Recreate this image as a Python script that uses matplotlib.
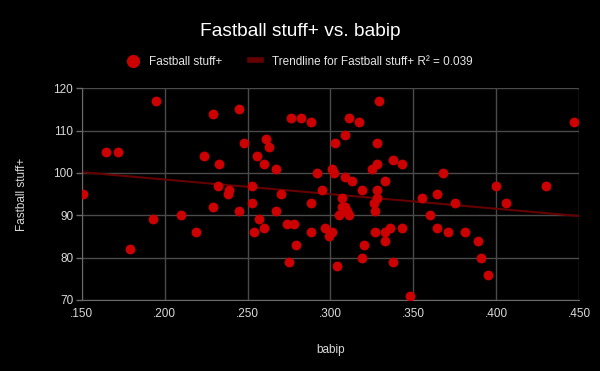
"""Scatter of fastball stuff+ against babip, with a linear trendline."""

import numpy as np
import matplotlib
matplotlib.use("Agg")
from matplotlib import pyplot as plt
from matplotlib.ticker import FuncFormatter

# Data.
babip = [
    0.151, 0.165, 0.172, 0.179, 0.193, 0.195, 0.210, 0.219, 0.224, 0.229,
    0.229, 0.232, 0.233, 0.238, 0.239, 0.245, 0.245, 0.248, 0.253, 0.253,
    0.254, 0.256, 0.257, 0.260, 0.260, 0.261, 0.263, 0.267, 0.267, 0.270,
    0.274, 0.275, 0.276, 0.278, 0.279, 0.282, 0.288, 0.288, 0.288, 0.292,
    0.295, 0.297, 0.299, 0.301, 0.301, 0.302, 0.303, 0.304, 0.305, 0.307,
    0.307, 0.309, 0.309, 0.309, 0.310, 0.311, 0.311, 0.313, 0.317, 0.319,
    0.319, 0.320, 0.325, 0.326, 0.327, 0.327, 0.328, 0.328, 0.328, 0.328,
    0.329, 0.333, 0.333, 0.333, 0.336, 0.338, 0.338, 0.343, 0.343, 0.348,
    0.355, 0.360, 0.364, 0.364, 0.368, 0.371, 0.375, 0.381, 0.389, 0.391,
    0.395, 0.400, 0.406, 0.430, 0.447,
]
stuff_plus = [
    95, 105, 105, 82, 89, 117, 90, 86, 104, 114,
    92, 97, 102, 95, 96, 115, 91, 107, 97, 93,
    86, 104, 89, 87, 102, 108, 106, 101, 91, 95,
    88, 79, 113, 88, 83, 113, 112, 93, 86, 100,
    96, 87, 85, 86, 101, 100, 107, 78, 90, 94,
    92, 92, 99, 109, 91, 90, 113, 98, 112, 96,
    80, 83, 101, 93, 91, 86, 102, 107, 96, 94,
    117, 98, 86, 84, 87, 103, 79, 102, 87, 71,
    94, 90, 95, 87, 100, 86, 93, 86, 84, 80,
    76, 97, 93, 97, 112,
]

x_ticks = [0.150, 0.200, 0.250, 0.300, 0.350, 0.400, 0.450]
y_ticks = [70, 80, 90, 100, 110, 120]

title = "Fastball stuff+ vs. babip"
series_label = "Fastball stuff+"
trend_label = "Trendline for Fastball stuff+ R² = 0.039"

plt.rcParams["font.family"] = ["Liberation Sans", "DejaVu Sans"]

fig = plt.figure(figsize=(6, 3.71), dpi=100, facecolor="black")
ax = fig.add_axes([0.136, 0.1914, 0.8295, 0.571], facecolor="black")

ax.scatter(babip, stuff_plus, s=50, color="#cc0000", zorder=3,
           linewidths=0, label=series_label)

# Least-squares trendline across the full x range.
slope, intercept = np.polyfit(babip, stuff_plus, 1)
x_line = np.array([x_ticks[0], x_ticks[-1]])
ax.plot(x_line, slope * x_line + intercept, color="#660000", lw=1.5,
        zorder=2, label=trend_label)

ax.set_xlim(x_ticks[0], x_ticks[-1])
ax.set_ylim(y_ticks[0], y_ticks[-1])
ax.set_xticks(x_ticks)
ax.set_yticks(y_ticks)
ax.xaxis.set_major_formatter(FuncFormatter(lambda v, _: f"{v:.3f}".lstrip("0")))

ax.grid(True, color="#4a4a4a", lw=1)
ax.set_axisbelow(True)
for side in ("top", "right"):
    ax.spines[side].set_visible(False)
for side in ("left", "bottom"):
    ax.spines[side].set_color("#6a6a6a")
ax.tick_params(axis="x", length=0, pad=6, labelsize=8.5, colors="#d9d9d9")
ax.tick_params(axis="y", length=4, width=1, color="#6a6a6a", pad=2,
               labelsize=8.5, labelcolor="#d9d9d9")

ax.set_xlabel("babip", color="#d9d9d9", fontsize=8.5, labelpad=17)
ax.set_ylabel("Fastball stuff+", color="#d9d9d9", fontsize=8.5, labelpad=18)

fig.text(0.5, 0.915, title, color="white", fontsize=13.8, ha="center",
         va="center")
leg = fig.legend(loc="center", bbox_to_anchor=(0.5, 0.834), ncol=2,
                 frameon=False, fontsize=8.5, handlelength=0.9,
                 columnspacing=2.4, handletextpad=0.9)
for text in leg.get_texts():
    text.set_color("#e6e6e6")
leg.legend_handles[0].set_sizes([90])
leg.legend_handles[1].set_linewidth(4)

fig.savefig("out.png", dpi=100, facecolor="black")
